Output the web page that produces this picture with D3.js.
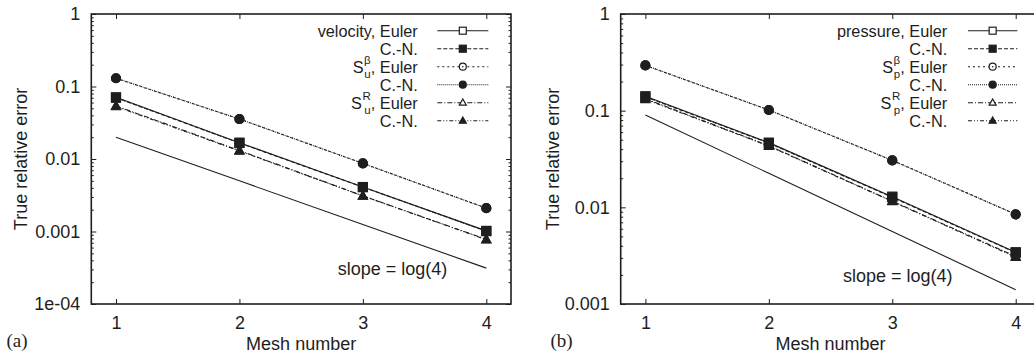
<!DOCTYPE html>
<html>
<head>
<meta charset="utf-8">
<script src="https://cdn.jsdelivr.net/npm/d3@7"></script>
<style>
  body { margin: 0; background: #fff; }
  text { font-family: "Liberation Sans", Arial, sans-serif; fill: #1e1e1e; }
</style>
</head>
<body>
<div id="chart"></div>
<script>
// mesh numbers on the x axis
var meshes = [1, 2, 3, 4];
var xTickLabels = ["1", "2", "3", "4"];

// (a) velocity errors
var velEuler = [0.071, 0.0168, 0.0041, 0.00102];
var velCN = [0.070, 0.0166, 0.0041, 0.00101];
var sbUEuler = [0.13, 0.0356, 0.0087, 0.0021];
var sbUCN = [0.13, 0.0356, 0.0087, 0.0021];
var srUEuler = [0.054, 0.0131, 0.0031, 0.00078];
var srUCN = [0.053, 0.0129, 0.0031, 0.00077];
var slopeA = [0.02, 0.005, 0.00125, 0.0003125];
var yTickValuesA = [1, 0.1, 0.01, 0.001, 0.0001];
var yTickLabelsA = ["1", "0.1", "0.01", "0.001", "1e-04"];

// (b) pressure errors
var prEuler = [0.141, 0.0467, 0.0129, 0.00343];
var prCN = [0.139, 0.0462, 0.0127, 0.0034];
var sbPEuler = [0.294, 0.1016, 0.0306, 0.00847];
var sbPCN = [0.294, 0.1016, 0.0306, 0.00847];
var srPEuler = [0.133, 0.0434, 0.0116, 0.0031];
var srPCN = [0.131, 0.043, 0.0115, 0.00305];
var slopeB = [0.09, 0.0225, 0.005625, 0.00140625];
var yTickValuesB = [1, 0.1, 0.01, 0.001];
var yTickLabelsB = ["1", "0.1", "0.01", "0.001"];

// legend names, "S|sup|sub|rest" for the stacked scripts
var legendNames = ["velocity, Euler", "C.-N.", "S|β|u|, Euler", "C.-N.", "S|R|u|, Euler", "C.-N."];
var legendNamesB = ["pressure, Euler", "C.-N.", "S|β|p|, Euler", "C.-N.", "S|R|p|, Euler", "C.-N."];

// line styles / markers per series (gnuplot style)
var dashes = [null, "4,2", "2,3", "1,1", "5,2,1,2", "4,2,1,2,1,2"];
var markers = ["squareOpen", "square", "circleOpen", "circle", "triangleOpen", "triangle"];

var W = 1034, H = 356;
var svg = d3.select("#chart").append("svg")
    .attr("width", W).attr("height", H);

var ink = "#1e1e1e";

function drawMarker(g, type, cx, cy, s) {
    if (type.indexOf("square") == 0) {
        g.append("rect")
            .attr("x", cx - s / 2).attr("y", cy - s / 2)
            .attr("width", s).attr("height", s)
            .attr("fill", type == "square" ? ink : "#fff")
            .attr("stroke", ink).attr("stroke-width", 1.2);
    } else if (type.indexOf("circle") == 0) {
        g.append("circle")
            .attr("cx", cx).attr("cy", cy).attr("r", s / 2)
            .attr("fill", type == "circle" ? ink : "#fff")
            .attr("stroke", ink).attr("stroke-width", 1.2);
        if (type == "circleOpen") {
            g.append("circle").attr("cx", cx).attr("cy", cy).attr("r", 0.8).attr("fill", ink);
        }
    } else {
        var h = s * 0.9;
        g.append("path")
            .attr("d", "M" + cx + "," + (cy - h * 0.6) + "L" + (cx + s / 2) + "," + (cy + h * 0.4) +
                "L" + (cx - s / 2) + "," + (cy + h * 0.4) + "Z")
            .attr("fill", type == "triangle" ? ink : "#fff")
            .attr("stroke", ink).attr("stroke-width", 1.2);
    }
}

// right-aligned legend label; scripts are separate texts so they stack
function legendLabel(g, x, y, name) {
    var parts = name.split("|");
    if (parts.length == 1) {
        g.append("text").attr("x", x).attr("y", y)
            .attr("text-anchor", "end").attr("font-size", 16.3).text(name);
        return;
    }
    var rest = g.append("text").attr("x", x).attr("y", y)
        .attr("text-anchor", "end").attr("font-size", 16.3).text(parts[3]);
    var x1 = x - rest.node().getComputedTextLength();
    var sup = g.append("text").attr("x", x1).attr("y", y - 8.5)
        .attr("text-anchor", "end").attr("font-size", 11.5).text(parts[1]);
    var sub = g.append("text").attr("x", x1).attr("y", y + 5)
        .attr("text-anchor", "end").attr("font-size", 11.5).text(parts[2]);
    var w = Math.max(sup.node().getComputedTextLength(), sub.node().getComputedTextLength());
    g.append("text").attr("x", x1 - w - 0.5).attr("y", y)
        .attr("text-anchor", "end").attr("font-size", 16.3).text(parts[0]);
}

function drawPanel(p) {
    var width = p.right - p.left, height = p.bottom - p.top;
    var g = svg.append("g").attr("transform", "translate(" + p.left + "," + p.top + ")");

    var x = d3.scaleLinear().domain([0.8, 4.2]).range([0, width]);
    var y = d3.scaleLog().domain(p.yDomain).range([height, 0]);

    // minor ticks on the log axis
    var minor = [];
    for (var e = Math.log10(p.yDomain[0]); e < Math.log10(p.yDomain[1]); e++) {
        for (var k = 2; k < 10; k++) minor.push(k * Math.pow(10, e));
    }

    // Y axis (left, right, minor)
    g.append("g")
        .call(d3.axisLeft(y).tickValues(p.yTicks).tickSizeInner(-5).tickSizeOuter(0).tickPadding(11)
            .tickFormat(function (d, i) { return p.yLabels[i]; }));
    g.append("g")
        .call(d3.axisLeft(y).tickValues(minor).tickSizeInner(-2.5).tickSizeOuter(0).tickFormat(""));
    g.append("g").attr("transform", "translate(" + width + ",0)")
        .call(d3.axisRight(y).tickValues(p.yTicks).tickSizeInner(-5).tickSizeOuter(0).tickFormat(""));
    g.append("g").attr("transform", "translate(" + width + ",0)")
        .call(d3.axisRight(y).tickValues(minor).tickSizeInner(-2.5).tickSizeOuter(0).tickFormat(""));

    // X axis (bottom and top)
    g.append("g").attr("transform", "translate(0," + height + ")")
        .call(d3.axisBottom(x).tickValues(meshes).tickSizeInner(-5).tickSizeOuter(0).tickPadding(12)
            .tickFormat(function (d, i) { return xTickLabels[i]; }));
    g.append("g")
        .call(d3.axisTop(x).tickValues(meshes).tickSizeInner(-5).tickSizeOuter(0).tickFormat(""));

    g.selectAll(".domain").remove();
    g.selectAll(".tick line").attr("stroke", ink).attr("stroke-width", 1);
    g.selectAll(".tick text").attr("font-size", 18).attr("fill", ink)
        .style("font-family", '"Liberation Sans", Arial, sans-serif');

    // frame
    g.append("rect")
        .attr("width", width).attr("height", height)
        .attr("fill", "none").attr("stroke", ink).attr("stroke-width", 1.6);

    // slope reference line
    var line = d3.line().x(function (d, i) { return x(meshes[i]); }).y(function (d) { return y(d); });
    g.append("path").datum(p.slope)
        .attr("d", line).attr("fill", "none").attr("stroke", ink).attr("stroke-width", 1.1);
    g.append("text")
        .attr("x", p.slopeText[0]).attr("y", p.slopeText[1])
        .attr("font-size", 18).text("slope = log(4)");

    // series lines and markers
    p.series.forEach(function (s, j) {
        g.append("path").datum(s)
            .attr("d", line).attr("fill", "none")
            .attr("stroke", ink).attr("stroke-width", 1.1)
            .attr("stroke-dasharray", dashes[j]);
    });
    p.series.forEach(function (s, j) {
        s.forEach(function (v, i) {
            drawMarker(g, markers[j], x(meshes[i]), y(v), 9);
        });
    });

    // legend
    var lx0 = p.legendX[0], lx1 = p.legendX[1];
    p.names.forEach(function (n, j) {
        var ly = 16.7 + 18 * j;
        g.append("line")
            .attr("x1", lx0).attr("x2", lx1).attr("y1", ly).attr("y2", ly)
            .attr("stroke", ink).attr("stroke-width", 1.1)
            .attr("stroke-dasharray", dashes[j]);
        drawMarker(g, markers[j], (lx0 + lx1) / 2, ly, 7);
        legendLabel(g, p.legendTextX, ly + 6, n);
    });

    // axis titles
    svg.append("text")
        .attr("x", p.left + width / 2).attr("y", 350)
        .attr("text-anchor", "middle").attr("font-size", 18)
        .text("Mesh number");
    svg.append("text")
        .attr("transform", "translate(" + p.yTitleX + "," + (p.top + height / 2) + ")rotate(-90)")
        .attr("text-anchor", "middle").attr("font-size", 18)
        .text("True relative error");

    // panel tag
    svg.append("text")
        .attr("x", p.tagX).attr("y", 347)
        .attr("font-size", 19)
        .style("font-family", '"Liberation Serif", "Times New Roman", serif')
        .text(p.tag);
}

drawPanel({
    left: 91.3, right: 511, top: 14, bottom: 304,
    yDomain: [0.0001, 1], yTicks: yTickValuesA, yLabels: yTickLabelsA,
    series: [velEuler, velCN, sbUEuler, sbUCN, srUEuler, srUCN],
    slope: slopeA, slopeText: [246.5, 260.5],
    names: legendNames, legendX: [346, 397], legendTextX: 326.5,
    yTitleX: 26.5, tag: "(a)", tagX: 6.5
});

drawPanel({
    left: 620.7, right: 1040.4, top: 14, bottom: 304,
    yDomain: [0.001, 1], yTicks: yTickValuesB, yLabels: yTickLabelsB,
    series: [prEuler, prCN, sbPEuler, sbPCN, srPEuler, srPCN],
    slope: slopeB, slopeText: [222.3, 267.5],
    names: legendNamesB, legendX: [347.3, 396.6], legendTextX: 326.6,
    yTitleX: 559, tag: "(b)", tagX: 550.5
});
</script>
</body>
</html>
